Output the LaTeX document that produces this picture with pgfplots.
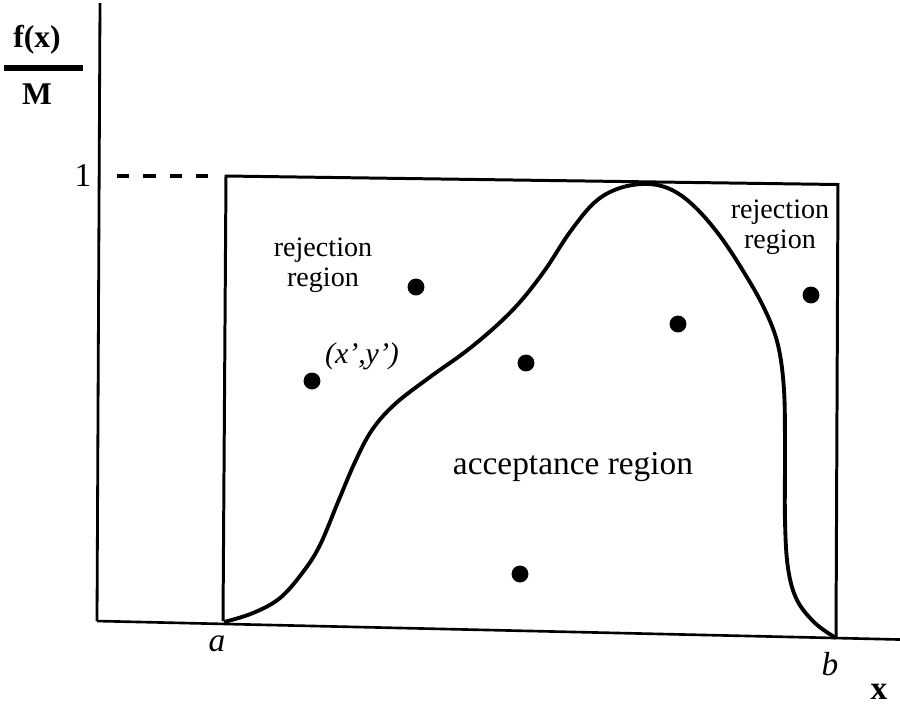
\documentclass[border=0pt]{standalone}
\usepackage{pgfplots}
\pgfplotsset{compat=1.18}
\usepackage{fontspec}
\setmainfont{Liberation Serif}
\begin{document}
\begin{tikzpicture}
\begin{axis}[
  scale only axis, width=9cm, height=7.09cm,
  xmin=0, xmax=900, ymin=0, ymax=709, y dir=reverse,
  hide axis, clip=false,
]
\coordinate (SW) at (axis cs:0,709);
\coordinate (NE) at (axis cs:900,0);
% axes
\addplot[black, line width=0.8pt] coordinates {(100,3) (97,621)};
\addplot[black, line width=0.75pt] coordinates {(97,621) (836,638) (900,639.5)};
% dashed level 1
\addplot[black, line width=0.95pt, dash pattern=on 3.5pt off 4.0pt] coordinates {(117,176) (214,176)};
% rectangle
\addplot[black, line width=0.85pt] coordinates {(223,621) (226,176) (838,184.5) (836,638)};
% curve f(x)/M
\addplot[black, line width=1.1pt, smooth, tension=0.6] coordinates {
(224,622) (253,613) (280,598) (303,572) (320,545) (338,502) (355,462) (372,430)
(395,404) (430,377) (465,352) (495,327) (520,302) (545,270) (570,232) (595,202)
(620,188) (648,184) (672,190) (695,207) (720,236) (745,274) (765,310) (778,345)
(784,390) (785,450) (785,520) (788,568) (797,600) (815,623) (836,638)};
% sampled points
\addplot[only marks, mark=*, mark size=2.2pt, black] coordinates {
(312,381) (416,287) (526,363) (678,324) (811,295) (520,574)};
% labels
\node[font=\fontsize{9}{10}\selectfont\bfseries] at (axis cs:37,40) {f(x)};
\node[font=\fontsize{9}{10}\selectfont\bfseries] at (axis cs:37,94) {M};
\addplot[black, line width=1.5pt] coordinates {(4,68) (83,68)};
\node[font=\fontsize{9.5}{10}\selectfont] at (axis cs:83,175) {1};
\node[font=\fontsize{9.5}{10}\selectfont\itshape] at (axis cs:217,644) {a};
\node[font=\fontsize{9.5}{10}\selectfont\itshape] at (axis cs:830,664) {b};
\node[font=\fontsize{9.5}{10}\selectfont\bfseries] at (axis cs:879,692) {x};
\node[font=\fontsize{8}{8.6}\selectfont, align=center] at (axis cs:323,265) {rejection\\region};
\node[font=\fontsize{8}{8.6}\selectfont, align=center] at (axis cs:780,227) {rejection\\region};
\node[font=\fontsize{8.5}{10}\selectfont\itshape] at (axis cs:362,356) {(x’,y’)};
\node[font=\fontsize{9.5}{10}\selectfont] at (axis cs:573,467) {acceptance region};
\end{axis}
\pgfresetboundingbox
\path[use as bounding box] (SW) rectangle (NE);
\end{tikzpicture}
\end{document}
